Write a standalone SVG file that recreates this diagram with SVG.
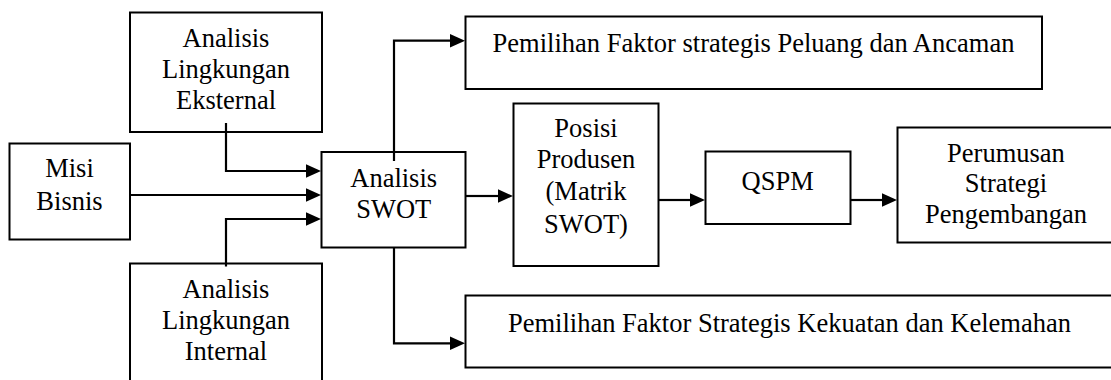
<svg xmlns="http://www.w3.org/2000/svg" width="1111" height="380" viewBox="0 0 1111 380">
<style>
.box{fill:#fff;stroke:#000;stroke-width:2}
.t{font-family:'Liberation Serif','Times New Roman',serif;font-size:26.5px;fill:#000;text-anchor:middle}
.c{fill:none;stroke:#000;stroke-width:2.2}
</style>
<defs>
<marker id="ah" markerUnits="userSpaceOnUse" markerWidth="16" markerHeight="16" viewBox="0 -8 16 16" refX="0.5" refY="0" orient="auto">
<path d="M0,-7 L15.5,0 L0,7 z" fill="#000"/>
</marker>
</defs>
<rect width="1111" height="380" fill="#fff"/>
<g id="connectors">
<path class="c" d="M226,123 V171 H306" marker-end="url(#ah)"/>
<path class="c" d="M130,195 H306" marker-end="url(#ah)"/>
<path class="c" d="M226,266.5 V219 H306" marker-end="url(#ah)"/>
<path class="c" d="M394,161 V40.7 H450" marker-end="url(#ah)"/>
<path class="c" d="M394,248 V343.3 H450" marker-end="url(#ah)"/>
<path class="c" d="M466,196 H498" marker-end="url(#ah)"/>
<path class="c" d="M659,200 H690" marker-end="url(#ah)"/>
<path class="c" d="M851,200 H882" marker-end="url(#ah)"/>
</g>
<g id="ext">
<rect class="box" x="130" y="12.5" width="192" height="119.5" fill-opacity="0"/>
<text class="t" x="226" y="47">Analisis</text>
<text class="t" x="226" y="78">Lingkungan</text>
<text class="t" x="226" y="109">Eksternal</text>
</g>
<g id="misi">
<rect class="box" x="9.5" y="143.5" width="120.5" height="96"/>
<text class="t" x="69.5" y="177">Misi</text>
<text class="t" x="69.5" y="209.5">Bisnis</text>
</g>
<g id="swot">
<rect class="box" x="321.5" y="152" width="144" height="95.5" fill-opacity="0"/>
<text class="t" x="393.7" y="186.7">Analisis</text>
<text class="t" x="393.7" y="218.3">SWOT</text>
</g>
<g id="int">
<rect class="box" x="130" y="263.5" width="192" height="130" fill-opacity="0"/>
<text class="t" x="226" y="298.3">Analisis</text>
<text class="t" x="226" y="329.3">Lingkungan</text>
<text class="t" x="226" y="360">Internal</text>
</g>
<g id="peluang">
<rect class="box" x="465.5" y="16.5" width="576.5" height="72.5"/>
<text class="t" x="753.5" y="51.7">Pemilihan Faktor strategis Peluang dan Ancaman</text>
</g>
<g id="kekuatan">
<rect class="box" x="465.5" y="295.5" width="700" height="72"/>
<text class="t" x="789.5" y="331.7">Pemilihan Faktor Strategis Kekuatan dan Kelemahan</text>
</g>
<g id="posisi">
<rect class="box" x="513.5" y="103.5" width="145" height="162.5"/>
<text class="t" x="586" y="136.7">Posisi</text>
<text class="t" x="586" y="168.3">Produsen</text>
<text class="t" x="586" y="200">(Matrik</text>
<text class="t" x="586" y="233.3">SWOT)</text>
</g>
<g id="qspm">
<rect class="box" x="705.5" y="151.5" width="145" height="72.5"/>
<text class="t" x="777.7" y="190">QSPM</text>
</g>
<g id="perumusan">
<rect class="box" x="897.5" y="127.5" width="250" height="115"/>
<text class="t" x="1006" y="161.7">Perumusan</text>
<text class="t" x="1006" y="191.7">Strategi</text>
<text class="t" x="1006" y="223.3">Pengembangan</text>
</g>
</svg>
